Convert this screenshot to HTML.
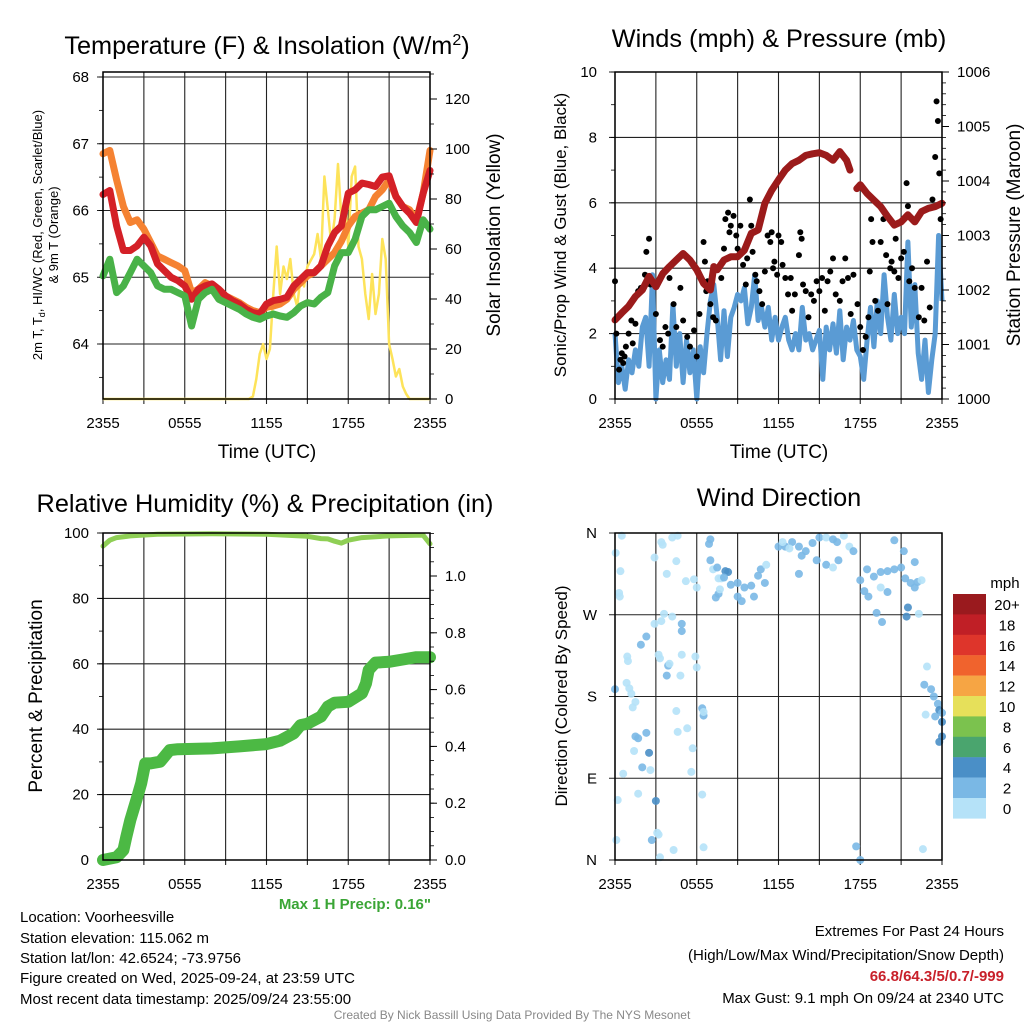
<!DOCTYPE html>
<html><head><meta charset="utf-8"><style>
html,body{margin:0;padding:0;background:#fff}
svg{display:block;font-family:"Liberation Sans",Arial,sans-serif}
</style></head><body>
<svg id="c" width="1024" height="1024" viewBox="0 0 1024 1024" xmlns="http://www.w3.org/2000/svg">
<rect width="1024" height="1024" fill="#fff"/>
<g font-size="25.3" text-anchor="middle" fill="#000">
<text x="267" y="54">Temperature (F) &amp; Insolation (W/m<tspan dy="-9" font-size="16">2</tspan><tspan dy="9">)</tspan></text>
<text x="779" y="47">Winds (mph) &amp; Pressure (mb)</text>
<text x="265" y="512">Relative Humidity (%) &amp; Precipitation (in)</text>
<text x="779" y="506">Wind Direction</text>
</g>
<g font-size="19" text-anchor="middle">
<text x="267" y="458">Time (UTC)</text>
<text x="779" y="458">Time (UTC)</text>
<text transform="translate(500,235) rotate(-90)">Solar Insolation (Yellow)</text>
<text transform="translate(1020,235) rotate(-90)">Station Pressure (Maroon)</text>
<text transform="translate(566,235) rotate(-90)" font-size="17">Sonic/Prop Wind &amp; Gust (Blue, Black)</text>
<text transform="translate(42,696) rotate(-90)">Percent &amp; Precipitation</text>
<text transform="translate(567,696) rotate(-90)" font-size="17">Direction (Colored By Speed)</text>
<text transform="translate(42,235) rotate(-90)" font-size="13">2m T, T<tspan font-size="9" dy="3">d</tspan><tspan dy="-3">, HI/WC (Red, Green, Scarlet/Blue)</tspan></text>
<text transform="translate(58,235) rotate(-90)" font-size="13">&amp; 9m T (Orange)</text>
</g>
<g font-size="15" fill="#000">
<text x="20" y="922">Location: Voorheesville</text>
<text x="20" y="943">Station elevation: 115.062 m</text>
<text x="20" y="963">Station lat/lon: 42.6524; -73.9756</text>
<text x="20" y="983">Figure created on Wed, 2025-09-24, at 23:59 UTC</text>
<text x="20" y="1004">Most recent data timestamp: 2025/09/24 23:55:00</text>
<g text-anchor="end">
<text x="1004" y="936">Extremes For Past 24 Hours</text>
<text x="1004" y="960">(High/Low/Max Wind/Precipitation/Snow Depth)</text>
<text x="1004" y="981" font-weight="bold" fill="#c8202a">66.8/64.3/5/0.7/-999</text>
<text x="1004" y="1003">Max Gust: 9.1 mph On 09/24 at 2340 UTC</text>
<text x="431" y="909" font-weight="bold" fill="#3aa535">Max 1 H Precip: 0.16"</text>
</g>
</g>
<text x="512" y="1019" font-size="12" fill="#888" text-anchor="middle">Created By Nick Bassill Using Data Provided By The NYS Mesonet</text>
<g id="plots"></g>
</svg>
<script>
// ---------- DATA ----------
const tempHours = [0,0.5,1,1.5,2,2.5,3,3.5,4,4.5,5,5.5,6,6.5,7,7.5,8,8.5,9,9.5,10,10.5,11,11.5,12,12.5,13,13.5,14,14.5,15,15.5,16,16.5,17,17.5,18,18.5,19,19.5,20,20.5,21,21.5,22,22.5,23,23.5,24];
const temp2m = [66.24,66.3,65.77,65.4,65.4,65.47,65.6,65.47,65.2,65.1,65.0,64.95,64.87,64.67,64.82,64.87,64.9,64.82,64.72,64.65,64.6,64.52,64.47,64.45,64.6,64.65,64.67,64.7,64.87,64.97,65.07,65.07,65.17,65.47,65.67,65.77,66.26,66.31,66.41,66.39,66.36,66.5,66.52,66.21,66.06,65.96,65.82,66.26,66.6];
const temp9m = [66.85,66.9,66.46,66.06,65.82,65.86,65.72,65.52,65.32,65.27,65.22,65.17,65.1,64.77,64.82,64.92,64.87,64.82,64.72,64.67,64.62,64.55,64.5,64.47,64.55,64.57,64.6,64.67,64.82,64.92,65.02,65.07,65.17,65.27,65.37,65.54,65.77,65.91,65.96,66.01,66.21,66.31,66.46,66.21,66.06,66.01,65.86,66.26,66.9];
const dewpoint = [65.02,65.27,64.77,64.87,65.07,65.27,65.17,65.07,64.87,64.82,64.82,64.77,64.72,64.27,64.67,64.77,64.82,64.67,64.62,64.57,64.52,64.45,64.4,64.37,64.42,64.45,64.42,64.4,64.47,64.57,64.62,64.6,64.7,64.77,65.17,65.37,65.37,65.57,65.91,66.01,66.01,66.06,66.11,65.91,65.77,65.67,65.52,65.86,65.72];
const solarHours = [0,10.7,11,11.25,11.5,11.75,12,12.25,12.5,12.75,13,13.25,13.5,13.75,14,14.25,14.5,14.75,15,15.5,15.75,16,16.25,16.5,16.75,17,17.25,17.5,17.75,18,18.25,18.5,18.75,19,19.25,19.5,19.75,20,20.25,20.5,20.75,21,21.25,21.5,21.75,22,22.25,22.5,24];
const solarValues = [0,0,1,8,18,22,16,20,42,61,42,53,48,56,42,37,49,45,53,58,66,56,89,76,62,72,94,72,80,61,89,93,61,56,42,32,50,34,42,64,56,22,16,9,12,5,2,0,0];
const pressHours = [0,0.5,1,1.5,2,2.5,3,3.5,4,4.5,5,5.5,6,6.5,7,7.25,7.5,8,8.5,9,9.5,10,10.5,11,11.5,12,12.5,13,13.5,14,14.5,15,15.5,16,16.5,17,17.25,17.5,17.75,18,18.5,19,19.5,20,20.5,21,21.5,22,22.5,23,23.5,24];
const pressValues = [1001.45,1001.58,1001.7,1001.88,1002.0,1002.25,1002.06,1002.3,1002.43,1002.55,1002.67,1002.55,1002.37,1002.12,1002.0,1002.43,1002.37,1002.55,1002.61,1002.61,1002.73,1003.04,1003.1,1003.59,1003.83,1004.02,1004.2,1004.32,1004.38,1004.47,1004.5,1004.52,1004.47,1004.38,1004.54,1004.38,1004.2,null,1003.86,1003.93,1003.77,1003.65,1003.53,1003.35,1003.19,1003.25,1003.38,1003.25,1003.44,1003.5,1003.53,1003.59];
const windSpeed = [2.0,0.5,1.0,0.3,1.2, 0.8,1.5,1.0,2.2, 2.5,1.0,3.8,0.0, 1.5,0.5,1.2,0.6, 2.9,1.0,2.0,0.5, 1.8,0.8,1.5,0.0, 1.6,0.8,2.0,3.0, 3.5,2.5,1.2,2.7, 1.3,2.5,2.8,3.2, 3.0,3.4,2.3,2.8, 3.8,2.4,2.8,2.2, 2.8,1.8,2.5,1.8, 2.2,2.5,1.8,1.5, 2.0,1.5,2.8,1.8, 2.0,1.5,1.8,2.1, 0.6,2.2,1.5,2.3, 1.4,2.7,1.2,2.2, 1.8,2.4,1.5,1.3, 0.6,1.8,2.8,1.6, 3.0,2.0,3.8,2.5, 1.8,3.2,2.0,2.5, 2.0,4.8,2.2,3.5, 1.4,0.6,1.8,0.2, 1.2,2.0,5.0,3.0];
const gustHours = [0,0.1,0.3,0.4,0.5,0.6,0.7,0.8,1.0,1.2,1.3,1.5,1.7,1.9,2.2,2.3,2.5,2.6,3.0,3.3,3.5,3.7,3.9,4.0,4.3,4.5,4.8,5.0,5.3,5.5,5.8,6.0,6.2,6.5,6.6,6.7,6.8,7.0,7.2,7.4,7.8,8.0,8.1,8.3,8.4,8.5,8.7,8.9,9.0,9.2,9.4,9.6,9.7,9.9,10.0,10.1,10.3,10.4,10.6,10.8,11.0,11.2,11.4,11.5,11.6,11.7,11.9,12.0,12.2,12.3,12.5,12.7,12.9,13.0,13.2,13.5,13.6,13.7,13.8,14.0,14.2,14.4,14.6,14.8,15.0,15.2,15.4,15.6,15.8,16.0,16.2,16.5,16.7,16.9,17.1,17.3,17.5,17.8,18.0,18.2,18.4,18.6,18.7,18.8,18.9,19.1,19.3,19.5,19.7,19.9,20.0,20.2,20.3,20.5,20.6,20.8,21.0,21.2,21.4,21.5,21.6,21.8,22.0,22.3,22.5,22.7,22.9,23.1,23.3,23.5,23.6,23.7,23.8,23.9];
const gustValues = [3.6,2.0,0.9,1.2,1.4,1.1,1.3,1.6,2.0,2.4,1.7,2.3,3.3,3.4,3.8,4.5,4.9,3.5,2.6,1.8,1.6,2.2,2.0,3.7,2.9,2.2,3.4,2.4,1.9,1.6,2.1,1.3,2.6,4.8,4.2,3.3,3.6,2.9,2.5,2.4,3.7,4.6,5.5,5.7,5.1,5.3,5.6,5.0,4.6,5.3,4.1,3.5,4.3,6.1,5.3,4.5,3.8,3.6,3.3,2.9,3.9,5.0,4.8,5.1,4.0,4.2,3.8,5.0,4.8,4.1,3.7,3.2,3.7,2.7,3.2,4.4,5.1,4.9,3.5,3.3,2.5,3.2,3.0,3.6,3.3,3.7,2.7,3.6,3.9,4.3,3.2,3.0,3.6,4.3,3.7,2.6,3.8,2.9,2.2,1.5,1.9,2.5,3.9,5.5,4.8,3.0,2.7,4.8,5.5,4.4,2.9,4.0,4.2,3.9,4.9,3.7,4.3,4.5,6.6,5.9,3.6,4.0,3.4,2.5,3.4,2.4,4.2,2.8,6.1,7.4,9.1,8.5,6.9,5.5];
const rhHours = [0,0.5,1,2,4,8,12,15,16,16.5,17,17.5,18,19,21,23,23.5,24];
const rhValues = [96,97.8,98.6,99.1,99.6,99.8,99.6,99,98.3,98.2,97.5,96.9,97.8,98.6,99.1,99.3,99.3,96.7];
const precipHours = [0,1,1.5,1.7,2,2.5,2.8,3.1,3.5,4.2,4.9,5.5,8,10,12,13,14,14.5,15,16,16.5,17,18,19,19.3,19.5,20,21,22,23,24];
const precipValues = [0,0.01,0.035,0.08,0.14,0.22,0.27,0.34,0.34,0.346,0.387,0.39,0.393,0.40,0.408,0.42,0.446,0.475,0.48,0.505,0.54,0.554,0.557,0.587,0.622,0.669,0.695,0.698,0.706,0.714,0.714];
const dirHours = [0.05,0.5,0.4,0.3,0.35,0.9,0.95,0.0,0.85,1.05,1.2,1.5,1.3,1.5,1.7,2.3,1.4,2.5,2.0,0.6,2.6,0.2,1.7,3.0,3.1,3.2,0.1,2.7,3.3,4.3,2.9,3.4,3.5,4.2,4.6,4.5,3.8,5.8,6.0,5.2,4.2,3.6,2.9,3.4,4.9,4.9,2.3,1.9,3.2,3.3,3.9,4.0,3.8,4.8,4.9,6.0,5.9,6.4,6.5,6.5,4.5,4.6,5.3,5.6,6.4,5.7,6.5,7.0,6.9,7.0,7.2,7.5,8.1,8.3,7.6,7.8,8.0,8.5,9.0,9.5,10.0,10.5,10.7,11.0,11.1,9.3,10.2,9.0,7.4,7.6,7.7,12.0,12.5,13.0,13.5,14.0,14.5,15.0,15.5,16.0,16.3,16.8,17.2,17.5,14.8,15.5,16.0,16.4,13.7,12.8,13.5,12.3,18.5,19.0,19.5,20.0,20.5,21.0,21.3,21.7,22.0,22.2,22.5,18.0,18.3,18.6,19.5,20.0,19.2,19.6,21.4,21.5,22.3,22.0,21.2,20.5,22.9,22.7,23.2,23.4,23.7,23.8,24.0,23.5,24.0,24.0,23.8,22.8,17.7,18.0,22.6];
const dirDegrees = [338,357,318,294,290,224,219,188,195,189,183,174,168,136,134,140,120,118,102,95,99,66,73,65,30,28,22,22,3,11,333,350,347,355,357,329,315,309,300,307,268,271,260,263,260,252,246,237,226,222,214,216,203,203,226,212,224,167,159,163,164,141,145,97,72,123,14,353,348,330,320,322,318,317,310,310,311,303,305,300,302,313,320,305,325,285,290,290,289,293,298,345,345,350,345,340,349,355,355,353,350,357,345,340,330,325,322,330,335,343,315,350,320,312,317,318,320,322,310,305,300,306,308,308,296,290,300,295,272,262,268,278,271,328,340,352,213,193,188,180,172,165,162,158,152,136,130,160,15,0,12];
const dirSpeeds = [1,1,1,1,1,1,1,3,1,1,1,1,1,3,3,3,1,5,3,1,1,1,1,5,1,1,1,3,1,1,1,1,1,1,1,1,1,1,1,1,1,1,1,1,3,3,3,3,1,1,3,1,3,1,1,1,1,3,3,1,1,1,1,1,1,1,1,3,3,3,1,3,5,5,1,1,3,3,3,3,3,3,3,3,1,3,3,3,3,3,1,3,3,3,3,3,3,3,1,3,3,1,1,3,3,3,1,3,3,1,3,1,3,3,3,3,3,3,3,3,3,3,1,3,3,3,1,3,3,3,5,5,1,3,3,3,1,3,3,3,3,5,3,3,5,5,5,1,3,3,1];
const legendLabels = ["20+","18","16","14","12","10","8","6","4","2","0"];
const legendColors = ["#9a1a1e","#c01f26","#de352b","#f0632d","#f6a544","#e6e05a","#7bc24e","#4aa56e","#4a8fc7","#7ab8e5","#b5e2f8"];
const tempTicks = [64,65,66,67,68];
const solarTicks = [0,20,40,60,80,100,120];
const windTicks = [0,2,4,6,8,10];
const pressTicks = [1000,1001,1002,1003,1004,1005,1006];
const rhTicks = [0,20,40,60,80,100];
const precipTicks = [0,0.2,0.4,0.6,0.8,1.0];
const dirTicks = [0,90,180,270,360];
const dirTickLabels = ["N","E","S","W","N"];
const timeTickHours = [0,6,12,18,24];
const timeTickLabels = ["2355","0555","1155","1755","2355"];

// ---------- DRAWING ----------
const NS="http://www.w3.org/2000/svg";
const root=document.getElementById('plots');
function el(tag,attrs,parent){const e=document.createElementNS(NS,tag);for(const k in attrs)e.setAttribute(k,attrs[k]);(parent||root).appendChild(e);return e;}
function lin(d0,d1,r0,r1){return v=>r0+(v-d0)/(d1-d0)*(r1-r0);}
function pathFrom(xs,ys,fx,fy){let d='',pen=false;for(let i=0;i<xs.length;i++){if(ys[i]===null||ys[i]===undefined){pen=false;continue;}d+=(pen?'L':'M')+fx(xs[i]).toFixed(1)+','+fy(ys[i]).toFixed(1);pen=true;}return d;}

function frame(P,name){
  const g=el('g',{});
  
  
  for(let h=0;h<=24;h+=3){const x=P.x(h);el('line',{x1:x,y1:P.top,x2:x,y2:P.bottom+5,stroke:'#222','stroke-width':1.1},g);}
  return g;
}
function hgrid(P,vals,fy,g){vals.forEach(v=>{const y=fy(v);el('line',{x1:P.left-6,y1:y,x2:P.right,y2:y,stroke:'#222','stroke-width':1.1},g);});}
function border(P){const r=el('rect',{x:P.left,y:P.top,width:P.right-P.left,height:P.bottom-P.top,fill:'none',stroke:'#000','stroke-width':1.5});
  
  }
function xlabels(P,y){timeTickHours.forEach((h,i)=>{const t=el('text',{x:P.x(h),y:y,'font-size':15,'text-anchor':'middle'});t.textContent=timeTickLabels[i];
  
  });}
function leftLabels(vals,fy,x,fmt){vals.forEach(v=>{const t=el('text',{x:x,y:fy(v)+5,'font-size':15,'text-anchor':'end'});t.textContent=fmt?fmt(v):v;
  
  });}
function rightAxis(P,vals,fy,fmt,minorStep,d0,d1){vals.forEach(v=>{const y=fy(v);el('line',{x1:P.right,y1:y,x2:P.right+7,y2:y,stroke:'#000','stroke-width':1});const t=el('text',{x:P.right+15,y:y+5,'font-size':15});t.textContent=fmt?fmt(v):v;
  
  });
  for(let v=d0;v<=d1+1e-9;v+=minorStep){const y=fy(v);if(y<P.top-0.5)break;el('line',{x1:P.right,y1:y,x2:P.right+4,y2:y,stroke:'#000','stroke-width':0.8});}}
function leftMinor(P,fy,d0,d1,step){for(let v=d0;v<=d1+1e-9;v+=step){const y=fy(v);if(y<P.top-0.5||y>P.bottom+0.5)continue;el('line',{x1:P.left-4,y1:y,x2:P.left,y2:y,stroke:'#000','stroke-width':0.8});}}

// Panel 1
const P1={left:103,right:430,top:72,bottom:399};P1.x=lin(0,24,P1.left,P1.right);
const fyT=lin(64,68,344,77), fyS=lin(0,120,399,99);
let g=frame(P1,'temperature');hgrid(P1,tempTicks,fyT,g);
leftMinor(P1,fyT,63.5,68,0.5);
let p=el('path',{d:pathFrom(solarHours,solarValues,P1.x,fyS),fill:'none',stroke:'#fde35a','stroke-width':2.5,'stroke-linejoin':'round'});


p=el('path',{d:pathFrom(tempHours,temp9m,P1.x,fyT),fill:'none',stroke:'#f58232','stroke-width':7,'stroke-linejoin':'round','stroke-linecap':'round'});


p=el('path',{d:pathFrom(tempHours,temp2m,P1.x,fyT),fill:'none',stroke:'#d42027','stroke-width':7,'stroke-linejoin':'round','stroke-linecap':'round'});


p=el('path',{d:pathFrom(tempHours,dewpoint,P1.x,fyT),fill:'none',stroke:'#49b248','stroke-width':7,'stroke-linejoin':'round','stroke-linecap':'round'});


border(P1);xlabels(P1,428);leftLabels(tempTicks,fyT,89);rightAxis(P1,solarTicks,fyS,null,10,0,130);

// Panel 2
const P2={left:615,right:942,top:72,bottom:399};P2.x=lin(0,24,P2.left,P2.right);
const fyW=lin(0,10,399,72), fyP=lin(1000,1006,399,72);
g=frame(P2,'winds');hgrid(P2,windTicks,fyW,g);leftMinor(P2,fyW,0,10,1);
p=el('path',{d:pathFrom(windSpeed.map((v,i)=>i*0.25),windSpeed,P2.x,fyW),fill:'none',stroke:'#5a9bd4','stroke-width':5,'stroke-linejoin':'round'});


gustHours.forEach((h,i)=>{const c=el('circle',{cx:P2.x(h),cy:fyW(gustValues[i]),r:3,fill:'#000'});
  
  });
p=el('path',{d:pathFrom(pressHours,pressValues,P2.x,fyP),fill:'none',stroke:'#9b1b1b','stroke-width':7,'stroke-linejoin':'round','stroke-linecap':'round'});


border(P2);xlabels(P2,428);leftLabels(windTicks,fyW,597);rightAxis(P2,pressTicks,fyP,null,0.2,1000,1006);

// Panel 3
const P3={left:103,right:430,top:533,bottom:860};P3.x=lin(0,24,P3.left,P3.right);
const fyR=lin(0,100,860,533), fyPr=lin(0,1,860,576);
g=frame(P3,'humidity');hgrid(P3,rhTicks,fyR,g);leftMinor(P3,fyR,0,100,10);
p=el('path',{d:pathFrom(rhHours,rhValues,P3.x,fyR),fill:'none',stroke:'#8fcf55','stroke-width':5,'stroke-linejoin':'round','stroke-linecap':'round'});


p=el('path',{d:pathFrom(precipHours,precipValues,P3.x,fyPr),fill:'none',stroke:'#4cb944','stroke-width':12,'stroke-linejoin':'round','stroke-linecap':'round'});


border(P3);xlabels(P3,889);leftLabels(rhTicks,fyR,89);rightAxis(P3,precipTicks,fyPr,v=>v.toFixed(1),0.05,0,1.15);

// Panel 4
const P4={left:615,right:942,top:533,bottom:860};P4.x=lin(0,24,P4.left,P4.right);
const fyD=lin(0,360,860,533);
g=frame(P4,'direction');hgrid(P4,dirTicks,fyD,g);
function spColor(s){const idx=10-Math.min(10,Math.floor(s/2));return legendColors[idx];}
dirHours.forEach((h,i)=>{const c=el('circle',{cx:P4.x(h),cy:fyD(dirDegrees[i]),r:4,fill:spColor(dirSpeeds[i]),'fill-opacity':0.9});
  
  });
border(P4);xlabels(P4,889);
dirTicks.forEach((v,i)=>{const t=el('text',{x:597,y:fyD(v)+5,'font-size':15,'text-anchor':'end'});t.textContent=dirTickLabels[i];
  
  });

// Legend
const lg=el('g',{});


let t=el('text',{x:1005,y:588,'font-size':15,'text-anchor':'middle'},lg);t.textContent='mph';
legendLabels.forEach((lab,i)=>{const y=594+i*20.4;const r=el('rect',{x:953,y:y,width:33,height:20.6,fill:legendColors[i]},lg);
  
  
  const tt=el('text',{x:1007,y:y+16,'font-size':15,'text-anchor':'middle'},lg);tt.textContent=lab;
  
  });
</script>
</body></html>
